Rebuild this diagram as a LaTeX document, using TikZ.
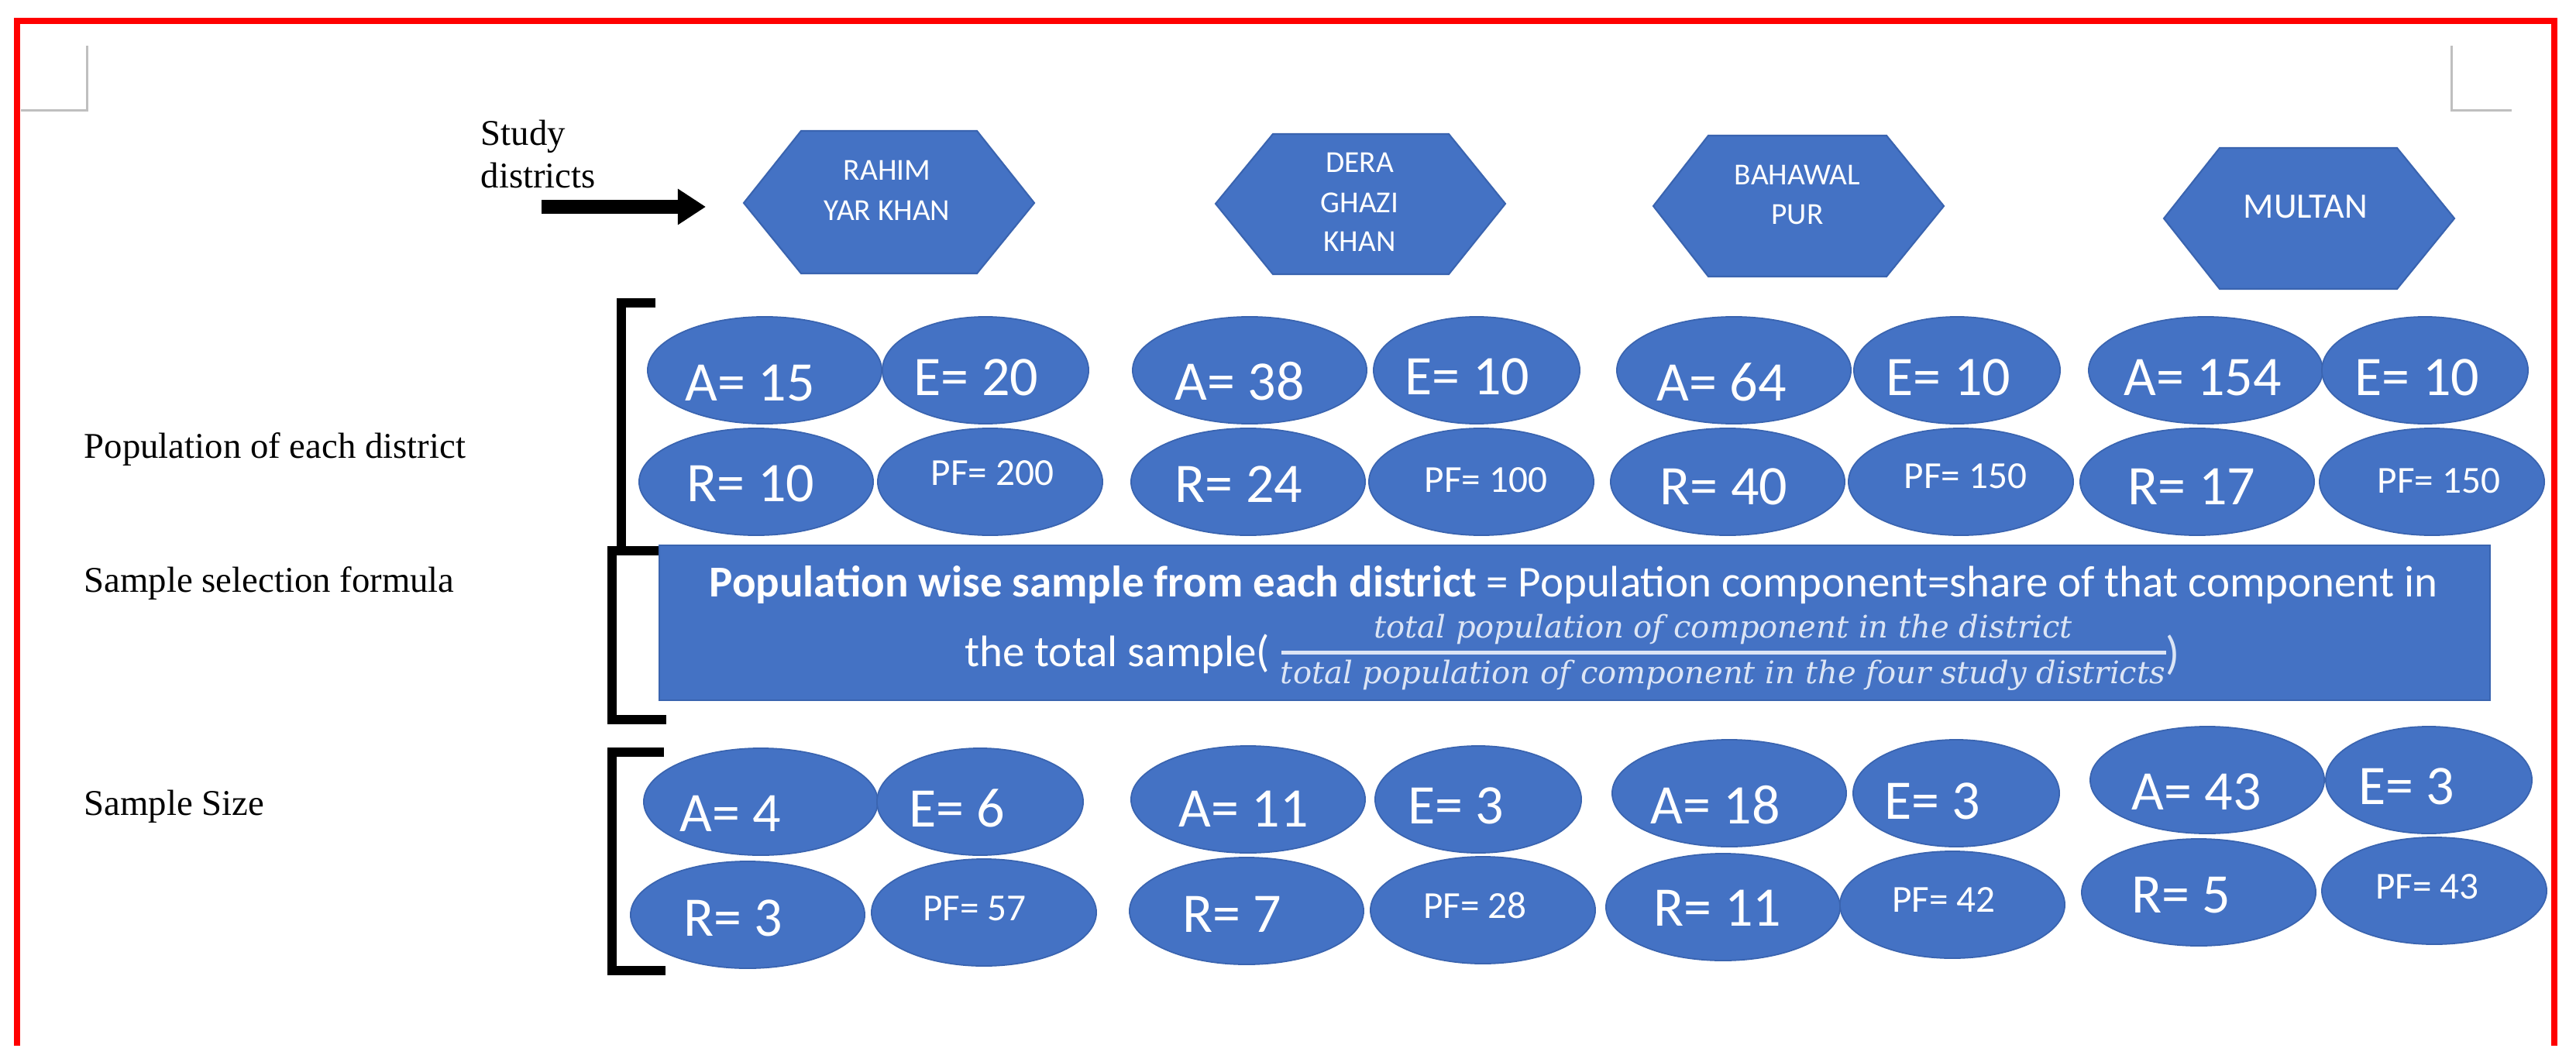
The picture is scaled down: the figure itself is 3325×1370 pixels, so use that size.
\documentclass[tikz,border=0pt]{standalone}
\usepackage{fontspec}
\setmainfont{Liberation Serif}
\newfontfamily\calfont{Carlito}
\newfontfamily\fracfont{DejaVu Serif}
\usetikzlibrary{arrows.meta,shapes.geometric}
\definecolor{ofblue}{HTML}{4472C4}
\definecolor{ofedge}{HTML}{3A64B0}
\definecolor{mkgray}{HTML}{BFBFBF}
\definecolor{fracc}{HTML}{DCE5F5}
\begin{document}
\begin{tikzpicture}[x=0.01cm,y=-0.01cm,
  elp/.style={ellipse, fill=ofblue, draw=ofedge, line width=0.5pt, inner sep=0pt, minimum height=1.38cm},
  aw/.style={minimum width=3.02cm},
  ew/.style={minimum width=2.66cm},
  pw/.style={minimum width=2.90cm},
  big/.style={text=white, font=\calfont\fontsize{20.5}{24}\selectfont, anchor=base, inner sep=0pt},
  smalltx/.style={text=white, font=\calfont\fontsize{14}{17}\selectfont, anchor=base, inner sep=0pt},
  hext/.style={text=white, font=\calfont\fontsize{11.2}{13}\selectfont, anchor=base, inner sep=0pt},
  hexs/.style={fill=ofblue, draw=ofedge, line width=0.6pt},
  lbl/.style={font=\fontsize{13.3}{16}\selectfont, anchor=base west, inner sep=0pt},
  brk/.style={line width=0.12cm, black},
  rectbox/.style={rectangle, fill=ofblue, draw=ofedge, line width=0.6pt, inner sep=0pt},
  ftext/.style={text=white, font=\calfont\fontsize{16.2}{19}\selectfont, inner sep=0pt},
  fractx/.style={text=fracc, font=\fracfont\itshape\fontsize{11.4}{13}\selectfont, anchor=base, inner sep=0pt}
]
\useasboundingbox (0,0) rectangle (3325,1370);
\fill[white] (0,0) rectangle (3325,1370);

% red frame
\draw[red, line width=0.08cm] (22,1350) -- (22,27) -- (3297,27) -- (3297,1350);

% gray corner marks
\draw[mkgray, line width=0.03cm] (112,59) -- (112,143) -- (27,143);
\draw[mkgray, line width=0.03cm] (3164,59) -- (3164,143) -- (3242,143);

% left labels
\node[lbl] (lstudy) at (620,188) {Study};
\node[lbl] (ldist) at (620,243) {districts};
\node[lbl] (lpop) at (108,591) {Population of each district};
\node[lbl] (lsel) at (108,764) {Sample selection formula};
\node[lbl] (lsize) at (108,1052) {Sample Size};

% arrow
\coordinate (arrS) at (699,267);
\coordinate (arrE) at (911,267);
\draw[black, line width=0.17cm, -{Triangle[length=0.36cm, width=0.44cm]}] (arrS) -- (arrE);

% hexagons
\filldraw[hexs] (1034,169) -- (1261,169) -- (1335,262) -- (1261,353) -- (1034,353) -- (960,262) -- cycle;
\filldraw[hexs] (1643,173) -- (1870,173) -- (1943,263) -- (1870,354) -- (1643,354) -- (1569,263) -- cycle;
\filldraw[hexs] (2205,175) -- (2435,175) -- (2509,266) -- (2435,357) -- (2205,357) -- (2134,266) -- cycle;
\filldraw[hexs] (2865,191) -- (3094,191) -- (3168,282) -- (3094,373) -- (2865,373) -- (2793,282) -- cycle;
\node[hext] (h1a) at (1145,233) {RAHIM};
\node[hext] (h1b) at (1145,285) {YAR KHAN};
\node[hext] (h2a) at (1755,223) {DERA};
\node[hext] (h2b) at (1755,275) {GHAZI};
\node[hext] (h2c) at (1755,325) {KHAN};
\node[hext] (h3a) at (2320,239) {BAHAWAL};
\node[hext] (h3b) at (2320,290) {PUR};
\node[hext, font=\calfont\fontsize{13.1}{15}\selectfont] (h4a) at (2976,282) {MULTAN};

% brackets
\draw[brk] (846,391) -- (802,391) -- (802,711);
\draw[brk] (857,711) -- (790,711) -- (790,929) -- (860,929);
\draw[brk] (857,971) -- (790,971) -- (790,1253) -- (859,1253);

% population ellipses
\node[elp,aw] (pa1) at (987,478) {};
\node[elp,ew] (pe1) at (1272,478) {};
\node[elp,aw] (pa2) at (1613,478) {};
\node[elp,ew] (pe2) at (1906,478) {};
\node[elp,aw] (pa3) at (2238,478) {};
\node[elp,ew] (pe3) at (2526,478) {};
\node[elp,aw] (pa4) at (2847,478) {};
\node[elp,ew] (pe4) at (3130,478) {};
\node[elp,aw] (pr1) at (976,622) {};
\node[elp,pw] (pp1) at (1278,622) {};
\node[elp,aw] (pr2) at (1611,622) {};
\node[elp,pw] (pp2) at (1912,622) {};
\node[elp,aw] (pr3) at (2230,622) {};
\node[elp,pw] (pp3) at (2531,622) {};
\node[elp,aw] (pr4) at (2836,622) {};
\node[elp,pw] (pp4) at (3139,622) {};

\node[big] (tpa1) at (968,517) {A= 15};
\node[big] (tpe1) at (1260,510) {E= 20};
\node[big] (tpr1) at (969,647) {R= 10};
\node[smalltx] (tpp1) at (1281,626) {PF= 200};
\node[big] (tpa2) at (1600,516) {A= 38};
\node[big] (tpe2) at (1894,509) {E= 10};
\node[big] (tpr2) at (1599,648) {R= 24};
\node[smalltx] (tpp2) at (1918,635) {PF= 100};
\node[big] (tpa3) at (2222,517) {A= 64};
\node[big] (tpe3) at (2515,510) {E= 10};
\node[big] (tpr3) at (2225,651) {R= 40};
\node[smalltx] (tpp3) at (2537,630) {PF= 150};
\node[big] (tpa4) at (2843,510) {A= 154};
\node[big] (tpe4) at (3120,510) {E= 10};
\node[big] (tpr4) at (2829,651) {R= 17};
\node[smalltx] (tpp4) at (3148,636) {PF= 150};

% formula box
\node[rectbox, minimum width=23.61cm, minimum height=2.0cm] (fbox) at (2032.5,804) {};
\node[ftext, anchor=base] (fl1) at (2031,770) {\textbf{Population wise sample from each district} = Population component=share of that component in};
\node[ftext, anchor=base east] (fl2) at (1640,860) {the total sample(};
\node[fractx] (fnum) at (2224,823) {total population of component in the district};
\node[fractx] (fden) at (2224,882) {total population of component in the four study districts};
\coordinate (barL) at (1654,842);
\coordinate (barR) at (2796,842);
\draw[fracc, line width=0.05cm] (barL) -- (barR);
\node[text=fracc, font=\calfont\fontsize{17}{20}\selectfont, inner sep=0pt] (fpar) at (2805,846) {)};

% sample ellipses
\node[elp,aw] (sa1) at (982,1035) {};
\node[elp,ew] (se1) at (1265,1035) {};
\node[elp,aw] (sa2) at (1611,1032) {};
\node[elp,ew] (se2) at (1908,1032) {};
\node[elp,aw] (sa3) at (2232,1024) {};
\node[elp,ew] (se3) at (2525,1024) {};
\node[elp,aw] (sa4) at (2849,1007) {};
\node[elp,ew] (se4) at (3135,1007) {};
\node[elp,aw] (sr1) at (965,1181) {};
\node[elp,pw] (sp1) at (1270,1178) {};
\node[elp,aw] (sr2) at (1609,1176) {};
\node[elp,pw] (sp2) at (1914,1175) {};
\node[elp,aw] (sr3) at (2224,1171) {};
\node[elp,pw] (sp3) at (2520,1168) {};
\node[elp,aw] (sr4) at (2838,1152) {};
\node[elp,pw] (sp4) at (3142,1150) {};

\node[big] (tsa1) at (943,1073) {A= 4};
\node[big] (tse1) at (1235,1067) {E= 6};
\node[big] (tsr1) at (946,1208) {R= 3};
\node[smalltx] (tsp1) at (1258,1188) {PF= 57};
\node[big] (tsa2) at (1605,1067) {A= 11};
\node[big] (tse2) at (1879,1063) {E= 3};
\node[big] (tsr2) at (1590,1203) {R= 7};
\node[smalltx] (tsp2) at (1904,1185) {PF= 28};
\node[big] (tsa3) at (2214,1063) {A= 18};
\node[big] (tse3) at (2494,1057) {E= 3};
\node[big] (tsr3) at (2217,1195) {R= 11};
\node[smalltx] (tsp3) at (2509,1177) {PF= 42};
\node[big] (tsa4) at (2835,1045) {A= 43};
\node[big] (tse4) at (3106,1038) {E= 3};
\node[big] (tsr4) at (2815,1178) {R= 5};
\node[smalltx] (tsp4) at (3133,1160) {PF= 43};
\end{tikzpicture}
\end{document}
